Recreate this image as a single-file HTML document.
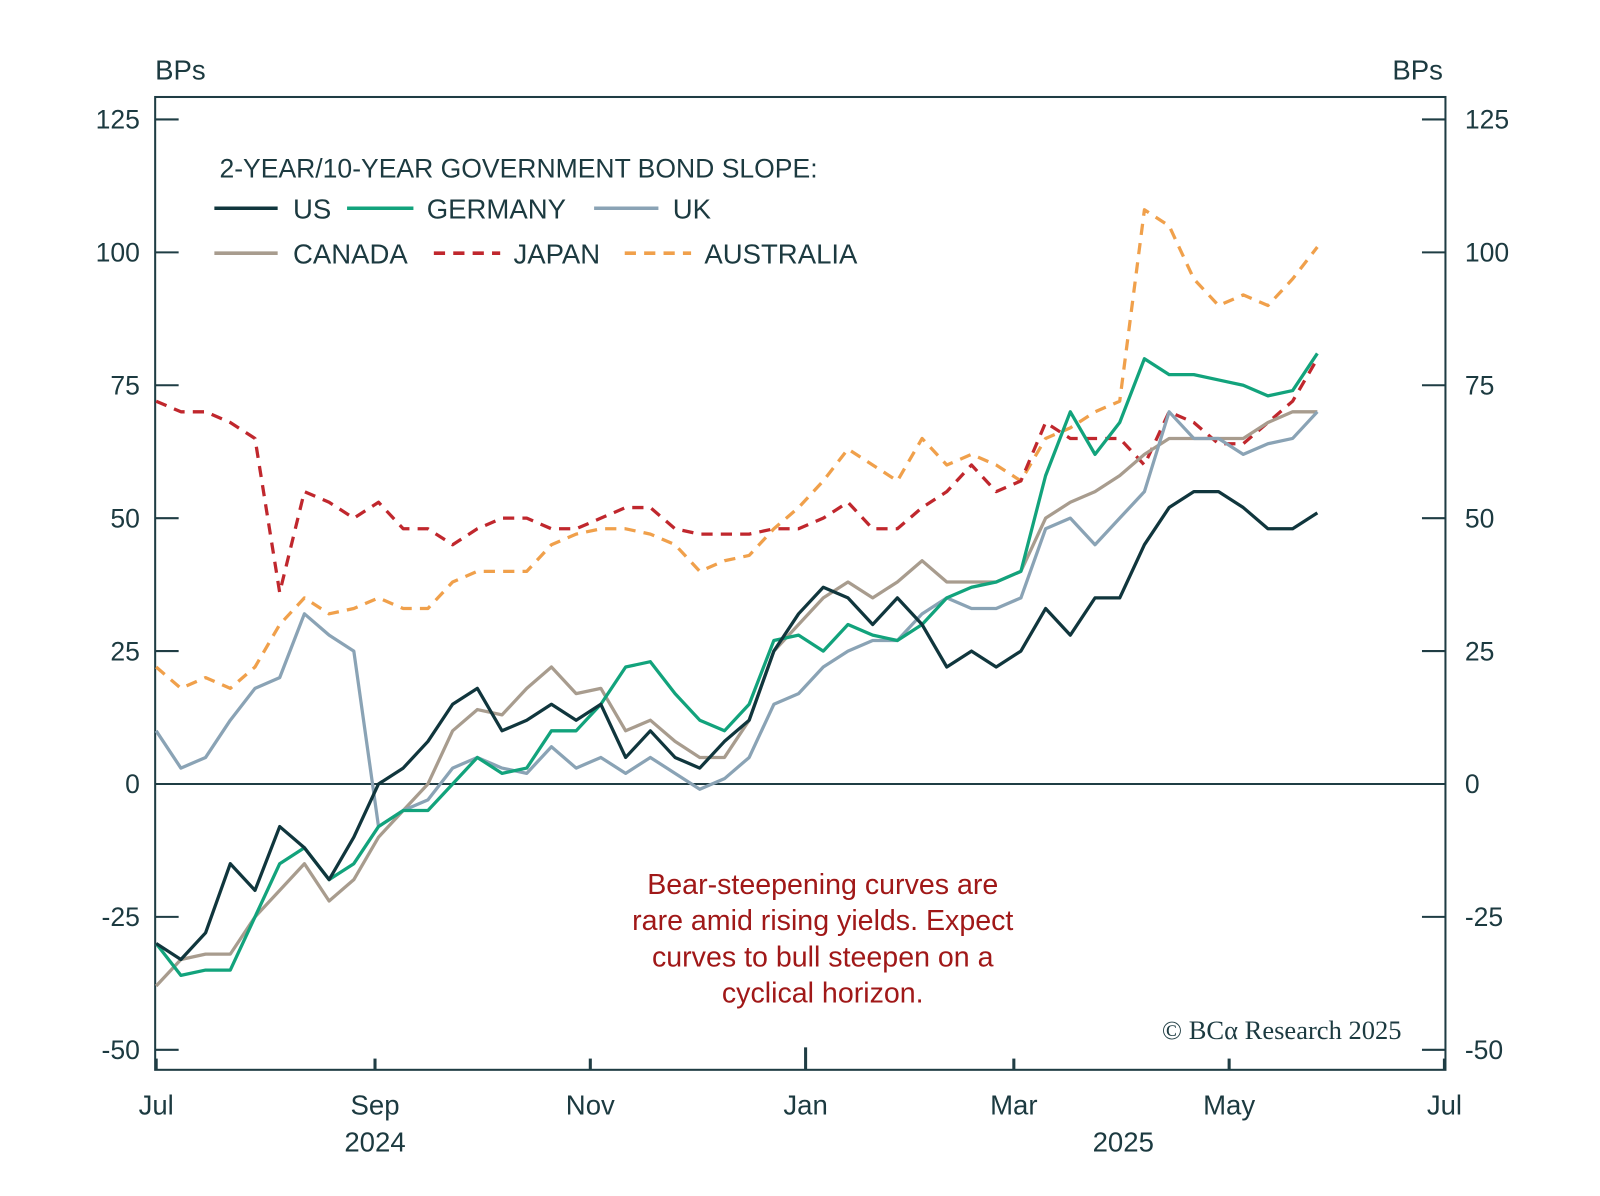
<!DOCTYPE html>
<html><head><meta charset="utf-8"><style>
html,body{margin:0;padding:0;background:#fff;}
svg text{font-family:"Liberation Sans",sans-serif;}
</style></head><body>
<svg id="chart" width="1600" height="1191" viewBox="0 0 1567.4 1166.7" xmlns="http://www.w3.org/2000/svg">
<rect x="0" y="0" width="1568" height="1167" fill="#fff"/>
<g id="axes"></g>
<g id="series"></g>
<g id="legend">
<text x="215" y="174" font-size="26" fill="#1c3a40">2-YEAR/10-YEAR GOVERNMENT BOND SLOPE:</text>
<line x1="210" y1="204" x2="272" y2="204" stroke="#10363d" stroke-width="3.5"/>
<text x="287" y="214" font-size="27" fill="#1c3a40">US</text>
<line x1="340" y1="204" x2="405" y2="204" stroke="#12a37c" stroke-width="3.5"/>
<text x="418" y="214" font-size="27" fill="#1c3a40">GERMANY</text>
<line x1="582" y1="204" x2="645" y2="204" stroke="#8aa3b5" stroke-width="3.5"/>
<text x="659" y="214" font-size="27" fill="#1c3a40">UK</text>
<line x1="210" y1="248" x2="272" y2="248" stroke="#a89c8e" stroke-width="3.5"/>
<text x="287" y="258" font-size="27" fill="#1c3a40">CANADA</text>
<line x1="425" y1="248" x2="490" y2="248" stroke="#c0272d" stroke-width="3.5" stroke-dasharray="11,8"/>
<text x="503" y="258" font-size="27" fill="#1c3a40">JAPAN</text>
<line x1="612" y1="248" x2="677" y2="248" stroke="#f0a04b" stroke-width="3.5" stroke-dasharray="11,8"/>
<text x="690" y="258" font-size="27" fill="#1c3a40">AUSTRALIA</text>
</g>
<g fill="#a01818" font-size="28" text-anchor="middle">
<text x="806" y="876">Bear-steepening curves are</text>
<text x="806" y="911">rare amid rising yields. Expect</text>
<text x="806" y="947">curves to bull steepen on a</text>
<text x="806" y="982">cyclical horizon.</text>
</g>
<text x="1373" y="1018" text-anchor="end" font-size="26" fill="#1c3a40" style="font-family:'Liberation Serif',serif">© BCα Research 2025</text>
</svg>
<script>
const yTicks=[125,100,75,50,25,0,-25,-50];
const xTickLabels=["Jul","Sep","Nov","Jan","Mar","May","Jul"];
const xTickDays=[0,62,123,184,243,304,365];
const yearLabels=["2024","2025"];
const yearDays=[62,274];
const seriesNames=["australia","japan","canada","uk","germany","us"];
const us=[-30,-33,-28,-15,-20,-8,-12,-18,-10,0,3,8,15,18,10,12,15,12,15,5,10,5,3,8,12,25,32,37,35,30,35,30,22,25,22,25,33,28,35,35,45,52,55,55,52,48,48,51];
const germany=[-30,-36,-35,-35,-25,-15,-12,-18,-15,-8,-5,-5,0,5,2,3,10,10,15,22,23,17,12,10,15,27,28,25,30,28,27,30,35,37,38,40,58,70,62,68,80,77,77,76,75,73,74,81];
const uk=[10,3,5,12,18,20,32,28,25,-8,-5,-3,3,5,3,2,7,3,5,2,5,2,-1,1,5,15,17,22,25,27,27,32,35,33,33,35,48,50,45,50,55,70,65,65,62,64,65,70];
const canada=[-38,-33,-32,-32,-25,-20,-15,-22,-18,-10,-5,0,10,14,13,18,22,17,18,10,12,8,5,5,12,25,30,35,38,35,38,42,38,38,38,40,50,53,55,58,62,65,65,65,65,68,70,70];
const japan=[72,70,70,68,65,36,55,53,50,53,48,48,45,48,50,50,48,48,50,52,52,48,47,47,47,48,48,50,53,48,48,52,55,60,55,57,68,65,65,65,60,70,68,64,64,68,72,80];
const australia=[22,18,20,18,22,30,35,32,33,35,33,33,38,40,40,40,45,47,48,48,47,45,40,42,43,48,52,57,63,60,57,65,60,62,60,57,65,67,70,72,108,105,95,90,92,90,95,101];
const stepDays=7;
const NS="http://www.w3.org/2000/svg";
const L=152,R=1416,T=95,B=1048;
function xScale(d){return 153+d*(1415-153)/365;}
function yScale(v){return 768-v*(768-117)/125;}
function mk(tag,attrs,parent){const e=document.createElementNS(NS,tag);for(const k in attrs)e.setAttribute(k,attrs[k]);parent.appendChild(e);return e;}
const ax=document.getElementById('axes');
const frame=mk('rect',{x:L,y:T,width:R-L,height:B-T,fill:'none',stroke:'#1f3d44','stroke-width':2},ax);


const zl=mk('line',{x1:L,x2:R,y1:yScale(0),y2:yScale(0),stroke:'#1f3d44','stroke-width':2},ax);


yTicks.forEach(v=>{
 const y=yScale(v);
 mk('line',{x1:L,x2:L+23,y1:y,y2:y,stroke:'#1f3d44','stroke-width':2},ax);
 mk('line',{x1:R-23,x2:R,y1:y,y2:y,stroke:'#1f3d44','stroke-width':2},ax);
 const t1=mk('text',{x:137,y:y+9,'text-anchor':'end','font-size':26,fill:'#1c3a40'},ax);t1.textContent=v;
 
 
 const t2=mk('text',{x:1435,y:y+9,'font-size':26,fill:'#1c3a40'},ax);t2.textContent=v;
 
 
});
xTickLabels.forEach((lab,i)=>{
 const x=xScale(xTickDays[i]);
 const len=lab==="Jan"?22:11;
 mk('line',{x1:x,x2:x,y1:B-len,y2:B,stroke:'#1f3d44','stroke-width':3},ax);
 const t=mk('text',{x:x,y:1092,'text-anchor':'middle','font-size':27,fill:'#1c3a40'},ax);t.textContent=lab;
 
 
});
yearLabels.forEach((lab,i)=>{
 const t=mk('text',{x:xScale(yearDays[i]),y:1128,'text-anchor':'middle','font-size':27,fill:'#1c3a40'},ax);t.textContent=lab;
 
 
});
['left','right'].forEach((s,i)=>{
 const t=mk('text',{x:i?1364:152,y:78,'font-size':27,fill:'#1c3a40'},ax);t.textContent='BPs';
 
 
});
const sg=document.getElementById('series');
const styles={us:['#10363d',null],germany:['#12a37c',null],uk:['#8aa3b5',null],canada:['#a89c8e',null],japan:['#c0272d','11,8'],australia:['#f0a04b','11,8']};
const data={us,germany,uk,canada,japan,australia};
seriesNames.forEach(n=>{
 const arr=data[n];
 const d=arr.map((v,i)=>(i?'L':'M')+xScale(i*stepDays).toFixed(1)+','+yScale(v).toFixed(1)).join(' ');
 const p=mk('path',{d:d,fill:'none',stroke:styles[n][0],'stroke-width':3.2,'stroke-linejoin':'round'},sg);
 if(styles[n][1])p.setAttribute('stroke-dasharray',styles[n][1]);
 
 
});
</script>
</body></html>
